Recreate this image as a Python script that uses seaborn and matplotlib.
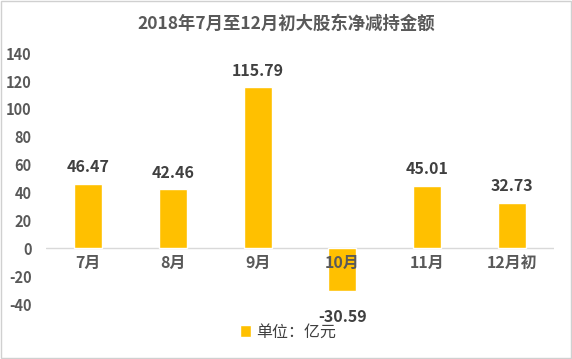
import pandas as pd
import seaborn as sns
import matplotlib.pyplot as plt
from matplotlib.patches import Patch, Rectangle

months = ['7月', '8月', '9月', '10月', '11月', '12月初']
amounts = [46.47, 42.46, 115.79, -30.59, 45.01, 32.73]
yticks = [-40, -20, 0, 20, 40, 60, 80, 100, 120, 140]

df = pd.DataFrame({'month': months, 'amount': amounts})

sns.set_theme(style='white')
plt.rcParams['font.family'] = ['Noto Sans CJK SC', 'DejaVu Sans']

fig = plt.figure(figsize=(5.72, 3.59), dpi=100)
ax = fig.add_axes([0.08, 0.153, 0.889, 0.699])

bar_color = '#FFC000'
text_color = '#595959'

sns.barplot(data=df, x='month', y='amount', color=bar_color, width=0.33,
            saturation=1, ax=ax)

ax.set_ylim(-40, 140)
ax.set_xlim(-0.5, len(months) - 0.5)
ax.set_yticks(yticks)
ax.set_yticklabels([str(t) for t in yticks], fontsize=10.5, fontweight='bold', color=text_color)
ax.set_xticks([])
ax.set_xlabel('')
ax.set_ylabel('')
for s in ax.spines.values():
    s.set_visible(False)
ax.axhline(0, color='#d9d9d9', linewidth=1, zorder=0)
ax.tick_params(axis='y', length=0, pad=10)

# month names sit just under the zero line
for i, m in enumerate(months):
    ax.text(i, -5, m, ha='center', va='top', fontsize=11.5, fontweight='bold', color=text_color)

# value labels
for i, v in enumerate(amounts):
    if v >= 0:
        ax.text(i, v + 6, f'{v:.2f}', ha='center', va='bottom', fontsize=11.5,
                fontweight='bold', color='#404040')
    else:
        ax.text(i, v - 13, f'{v:.2f}', ha='center', va='top', fontsize=11.5,
                fontweight='bold', color='#404040')

fig.text(0.5, 0.935, '2018年7月至12月初大股东净减持金额', ha='center', va='center',
         fontsize=12.5, fontweight='bold', color=text_color)

fig.legend(handles=[Patch(facecolor=bar_color, label='单位：亿元')],
           loc='center', bbox_to_anchor=(0.503, 0.075), frameon=False,
           fontsize=11.5, handlelength=0.7, handleheight=0.7, handletextpad=0.3,
           labelcolor='#404040')

fig.patches.append(Rectangle((0.002, 0.003), 0.996, 0.994, transform=fig.transFigure,
                             fill=False, edgecolor='#d0d0d0', linewidth=1))

fig.savefig('out.png', dpi=100)
